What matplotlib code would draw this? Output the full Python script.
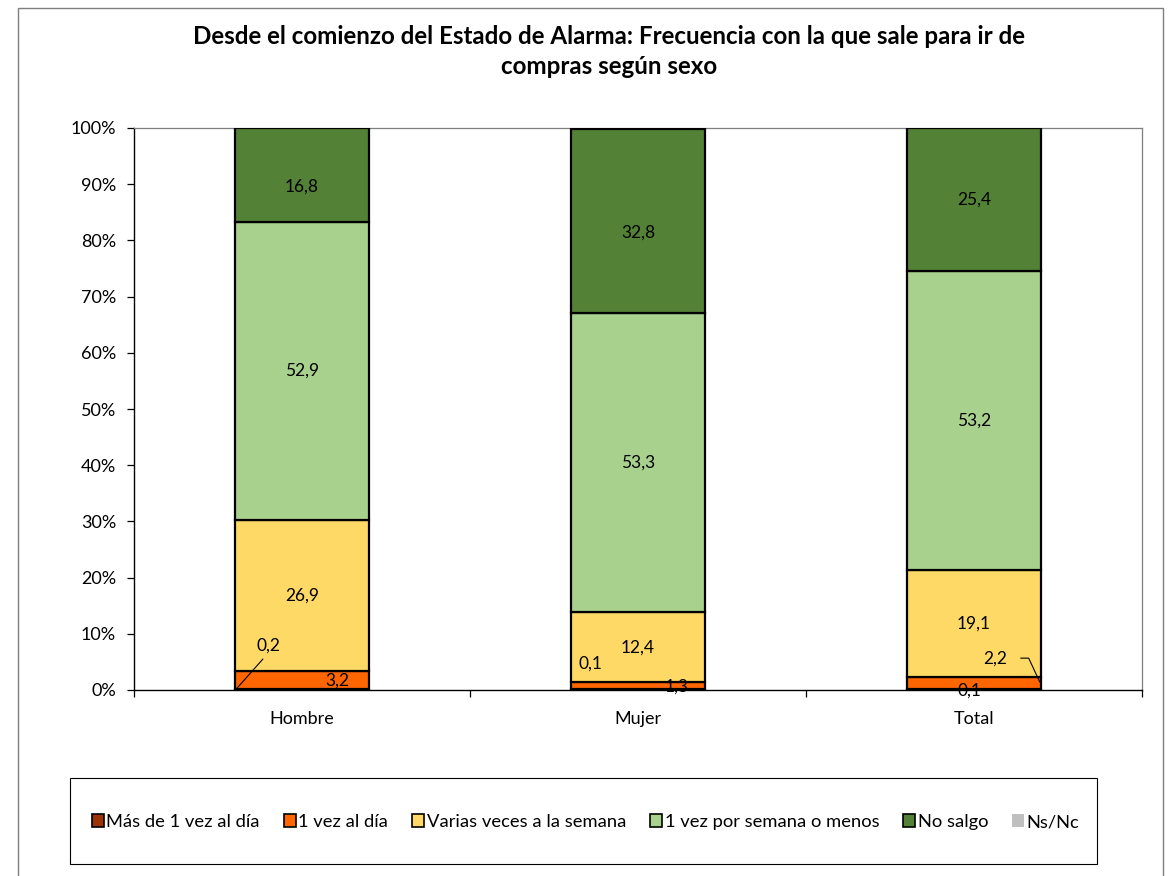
import matplotlib
matplotlib.use("Agg")
import matplotlib.pyplot as plt
from matplotlib.patches import Patch, Rectangle
import numpy as np

plt.rcParams["font.family"] = ["Lato", "DejaVu Sans"]

# ── Data ───────────────────────────────────────────────────────────────────────
categories = ["Hombre", "Mujer", "Total"]
series_names = ["Más de 1 vez al día", "1 vez al día", "Varias veces a la semana",
                "1 vez por semana o menos", "No salgo", "Ns/Nc"]
mas_de_1 = [0.2, 0.1, 0.1]
una_vez_dia = [3.2, 1.3, 2.2]
varias_veces = [26.9, 12.4, 19.1]
una_vez_semana = [52.9, 53.3, 53.2]
no_salgo = [16.8, 32.8, 25.4]
ns_nc = [0.0, 0.0, 0.0]
series = [mas_de_1, una_vez_dia, varias_veces, una_vez_semana, no_salgo, ns_nc]

colors = ["#9C3306", "#FF6600", "#FFD966", "#A9D18E", "#538135", "#BFBFBF"]

# label offsets in pixels (dx right, dy up) from segment centre, per (series, category)
label_offsets = {
    (1, 0): (35, -1),
    (0, 1): (-48, 26), (1, 1): (39, -1),
    (0, 2): (-5, -1),
    (4, 0): (0, -11), (4, 1): (0, -12),
}
W, H = 1173, 876

# ── Plot ───────────────────────────────────────────────────────────────────────
fig = plt.figure(figsize=(W / 100, H / 100), dpi=100)
ax = fig.add_axes([134 / W, 1 - 690 / H, (1142 - 134) / W, (690 - 128) / H])

x = np.arange(len(categories))
width = 0.4
bottom = np.zeros(len(categories))
for i, (name, vals, col) in enumerate(zip(series_names, series, colors)):
    vals = np.array(vals)
    if vals.sum() > 0:
        ax.bar(x, vals, width, bottom=bottom, color=col, edgecolor="black",
               linewidth=1.6, zorder=3)
        for j, v in enumerate(vals):
            yc = bottom[j] + v / 2
            txt = f"{v:.1f}".replace(".", ",")
            if (i, j) == (0, 0):
                # leader line from label down to bar's bottom-left corner
                ax.annotate(txt, xy=(x[j] - width / 2 + 0.004, 0.15),
                            xytext=(32, 44), textcoords="offset pixels",
                            fontsize=12.5, ha="center", va="center", zorder=5,
                            annotation_clip=False,
                            arrowprops=dict(arrowstyle="-", lw=0.8, color="black",
                                            relpos=(0.5, 0), shrinkA=3, shrinkB=0))
            elif (i, j) == (1, 2):
                ax.annotate(txt, xy=(x[j] + width / 2 - 0.004, yc + 0.2),
                            xytext=(-45, 24), textcoords="offset pixels",
                            fontsize=12.5, ha="center", va="center", zorder=5,
                            annotation_clip=False,
                            arrowprops=dict(arrowstyle="-", lw=0.8, color="black",
                                            relpos=(1, 0.5), shrinkA=8, shrinkB=0,
                                            connectionstyle="angle,angleA=0,angleB=115,rad=0"))
            else:
                dx, dy = label_offsets.get((i, j), (0, 0))
                ax.annotate(txt, xy=(x[j], yc), xytext=(dx, dy),
                            textcoords="offset pixels", fontsize=12.5,
                            ha="center", va="center", zorder=5, annotation_clip=False)
    bottom += vals

ax.set_xlim(-0.5, 2.5)
ax.set_ylim(0, 100)
ax.set_yticks(np.arange(0, 101, 10))
ax.set_yticklabels([f"{t}%" for t in range(0, 101, 10)], fontsize=13)
ax.set_xticks([-0.5, 0.5, 1.5, 2.5])
ax.set_xticklabels([])
ax.set_xticks(x, minor=True)
ax.set_xticklabels(categories, minor=True, fontsize=13)
ax.tick_params(axis="x", which="minor", length=0, pad=15)
ax.tick_params(axis="both", which="major", length=5, width=0.9, direction="out")
ax.tick_params(axis="y", pad=8)
for s in ["top", "right"]:
    ax.spines[s].set_color("#7f7f7f")
    ax.spines[s].set_linewidth(0.9)
ax.spines["left"].set_linewidth(1.0)
ax.spines["bottom"].set_linewidth(1.0)

fig.text(609 / W, 1 - 37 / H,
         "Desde el comienzo del Estado de Alarma: Frecuencia con la que sale para ir de",
         ha="center", va="center", fontsize=17.4, fontweight="bold")
fig.text(609 / W, 1 - 67 / H, "compras según sexo",
         ha="center", va="center", fontsize=17.4, fontweight="bold")

# outer frame and legend box
fig.patches.append(Rectangle((18 / W, -0.01), (1163 - 18) / W, 1 - 8 / H + 0.01,
                             transform=fig.transFigure, fill=False, edgecolor="#7f7f7f",
                             linewidth=1.0))
fig.patches.append(Rectangle((70 / W, 1 - 864 / H), (1097 - 70) / W, 86 / H,
                             transform=fig.transFigure, fill=False, edgecolor="black",
                             linewidth=0.8))

handles = [Patch(facecolor=c, edgecolor="black" if n != "Ns/Nc" else "none", linewidth=1.2)
           for c, n in zip(colors, series_names)]
fig.legend(handles, series_names, loc="center", bbox_to_anchor=(585.5 / W, 1 - 822 / H),
           ncol=6, frameon=False, fontsize=13.2, handlelength=0.65, handleheight=0.65,
           handletextpad=0.15, columnspacing=1.3)

fig.savefig("out.png", dpi=100)
